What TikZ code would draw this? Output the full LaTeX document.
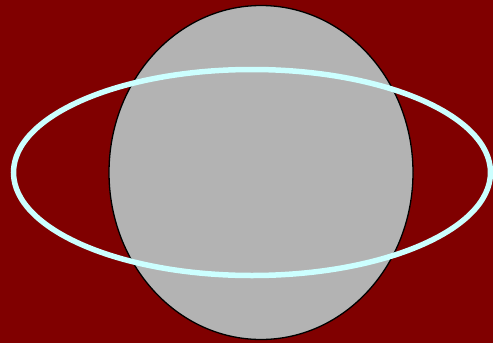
\documentclass[tikz,border=0pt]{standalone}
\definecolor{bgred}{HTML}{800000}
\definecolor{ballgray}{HTML}{B3B3B3}
\definecolor{ringcyan}{HTML}{CCFFFF}
\begin{document}
\begin{tikzpicture}[x=1pt,y=-1pt]
    \fill[bgred] (0,0) rectangle (493,343);
    \useasboundingbox (0,0) rectangle (493,343);
    \coordinate (O) at (261,172.5);
    \coordinate (R) at (252,172.5);
    \draw[fill=ballgray,draw=black,line width=1.3pt] (O) ellipse [x radius=152, y radius=167];
    \draw[ringcyan,line width=5.5pt] (R) ellipse [x radius=238.5, y radius=103];
\end{tikzpicture}
\end{document}
